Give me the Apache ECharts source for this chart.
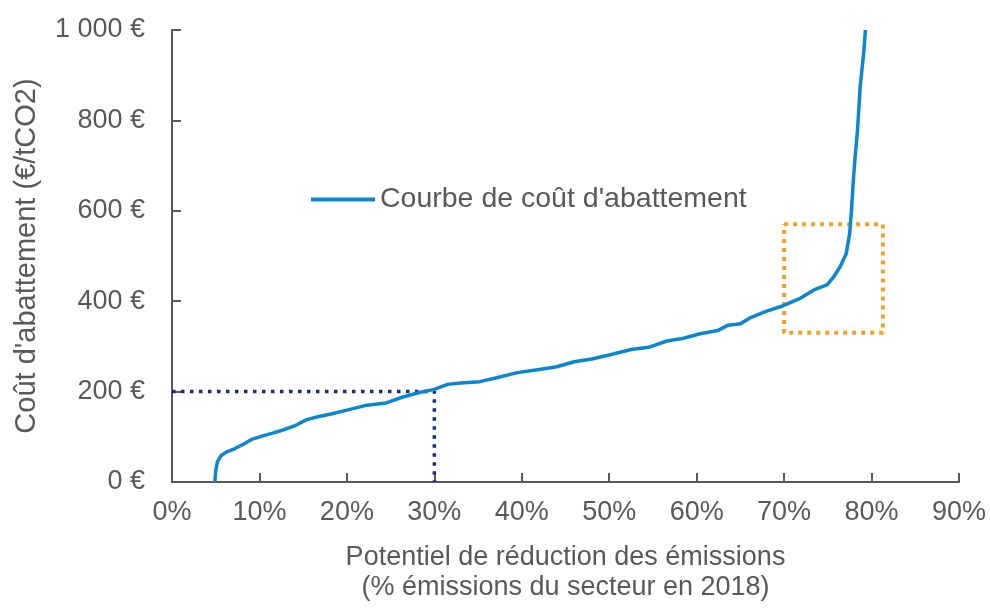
<!DOCTYPE html>
<html><head><meta charset="utf-8">
<script src="https://cdn.jsdelivr.net/npm/echarts@6/dist/echarts.min.js"></script>
<style>html,body{margin:0;padding:0;background:#fff}#c{width:990px;height:608px}</style>
</head><body><div id="c"></div>
<script>
// Abatement cost curve: [reduction potential %, cost €/tCO2]
const curveX = [4.9,5.0,5.2,5.6,6.2,7.2,8.2,9.2,10.2,11.5,12.7,14.0,15.4,16.8,18.3,20,22.3,24.5,26.4,28.3,30,31.5,33,35.2,37,39.5,42,44,46,48,50,52.5,54.5,56.6,58.5,60.4,62.4,63.6,65,66.1,68,69.9,71.9,73.4,74.9,75.6,76.4,77.1,77.5,77.7,77.9,78.1,78.4,78.7,79.1,79.3];
const curveY = [0,25,45,58,66,74,84,95,101,108,115,124,138,145,151,159,170,175,188,198,205,216,219,222,230,242,249,255,266,272,281,293,298,312,318,328,335,347,350,363,378,390,407,425,436,452,476,505,550,600,663,714,780,875,949,1000];
const refX = [0, 30, 30];
const refY = [200, 200, 0];
const boxX = [70, 81.3, 81.3, 70, 70];
const boxY = [570, 570, 330, 330, 570];
const yTicks = [0, 200, 400, 600, 800, 1000];
const yTickLabels = ['0 €', '200 €', '400 €', '600 €', '800 €', '1 000 €'];
const seriesName = "Courbe de coût d'abattement";

const font = '"Liberation Sans", Arial, sans-serif';
const grey = '#595959';
const fs = 27;
const chart = echarts.init(document.getElementById('c'), null, {renderer: 'canvas'});
chart.setOption({
  animation: false,
  grid: {left: 172, right: 31, top: 30, bottom: 124},
  legend: {
    data: [seriesName], left: 306, top: 180, icon: 'rect', itemWidth: 64, itemHeight: 4,
    textStyle: {color: grey, fontSize: 28.5, fontFamily: font}
  },
  xAxis: {
    type: 'value', min: 0, max: 90, interval: 10,
    name: 'Potentiel de réduction des émissions\n(% émissions du secteur en 2018)',
    nameLocation: 'middle', nameGap: 61,
    nameTextStyle: {color: grey, fontSize: fs, fontFamily: font, lineHeight: 30, verticalAlign: 'top'},
    axisLine: {lineStyle: {color: grey, width: 2}},
    axisTick: {inside: true, length: 9, lineStyle: {color: grey, width: 2}},
    axisLabel: {color: grey, fontSize: fs, fontFamily: font, margin: 17, formatter: v => v + '%'},
    splitLine: {show: false}
  },
  yAxis: {
    type: 'value', min: 0, max: 1000, interval: 200,
    name: "Coût d'abattement (€/tCO2)", nameLocation: 'middle', nameGap: 131,
    nameTextStyle: {color: grey, fontSize: 29, fontFamily: font},
    axisLine: {show: true, lineStyle: {color: grey, width: 2}},
    axisTick: {show: true, inside: true, length: 9, lineStyle: {color: grey, width: 2}},
    axisLabel: {color: grey, fontSize: fs, fontFamily: font, margin: 27,
      formatter: v => yTickLabels[yTicks.indexOf(v)]},
    splitLine: {show: false}
  },
  series: [
    {
      name: 'ref', type: 'line', data: refX.map((x, i) => [x, refY[i]]),
      showSymbol: false, symbol: 'none', silent: true,
      lineStyle: {color: '#1F2A78', width: 3.5, type: [3.5, 5.5]}, z: 2
    },
    {
      name: 'box', type: 'line', data: boxX.map((x, i) => [x, boxY[i]]),
      showSymbol: false, symbol: 'none', silent: true,
      lineStyle: {color: '#F5A020', width: 4, type: [4, 5]}, z: 2
    },
    {
      name: seriesName, type: 'line', data: curveX.map((x, i) => [x, curveY[i]]),
      showSymbol: false, symbol: 'none', color: '#0B86D1',
      lineStyle: {color: '#0B86D1', width: 3.5}, z: 3
    }
  ]
});
</script></body></html>
